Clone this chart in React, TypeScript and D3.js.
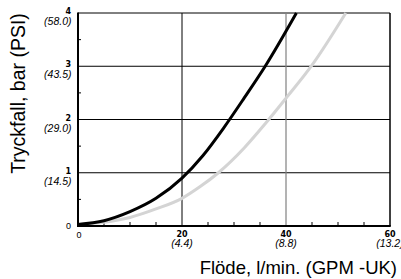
import React from "react";
import * as d3 from "d3";

const flowTicks = [0, 20, 40, 60];
const flowSub = ["", "(4.4)", "(8.8)", "(13.2)"];
const pressTicks = [0, 1, 2, 3, 4];
const pressSub = ["", "(14.5)", "(29.0)", "(43.5)", "(58.0)"];
const minorX = [5, 10, 15, 25, 30, 35, 45, 50, 55];
const minorY = [0.5, 1.5, 2.5, 3.5];

const blackFlow = [0, 5, 10, 15, 20, 24, 28, 32, 36, 42];
const blackPress = [0.03, 0.1, 0.27, 0.52, 0.9, 1.32, 1.84, 2.41, 3.0, 4];
const grayFlow = [0, 5, 10, 15, 20, 23.5, 27, 32, 36, 40, 45, 51.5];
const grayPress = [0.03, 0.07, 0.16, 0.32, 0.52, 0.74, 1, 1.47, 1.92, 2.4, 3.02, 4];

const W = 401;
const H = 279;
const left = 78, right = 390, top = 13, bottom = 226;

export default function App() {
  const x = d3.scaleLinear().domain([0, 60]).range([left, right]);
  const y = d3.scaleLinear().domain([0, 4]).range([bottom, top]);
  const line = d3
    .line<[number, number]>()
    .x((d) => x(d[0]))
    .y((d) => y(d[1]))
    .curve(d3.curveMonotoneX);
  const blackPts = blackFlow.map((f, i) => [f, blackPress[i]] as [number, number]);
  const grayPts = grayFlow.map((f, i) => [f, grayPress[i]] as [number, number]);
  const sans = "'Liberation Sans', Arial, sans-serif";
  const bold = "'DejaVu Sans', sans-serif";
  return (
    <svg
      width={W}
      height={H}
      style={{ position: "absolute", left: 0, top: 0, background: "#fff" }}
    >
      {pressTicks.slice(1).map((p) => (
        <line key={"h" + p} x1={left} x2={right} y1={y(p)} y2={y(p)} stroke="#000" strokeWidth={1} />
      ))}
      <line x1={x(20)} x2={x(20)} y1={top} y2={bottom} stroke="#000" strokeWidth={1} />
      <line x1={x(40)} x2={x(40)} y1={top} y2={bottom} stroke="#808080" strokeWidth={1.2} />
      <line x1={x(60)} x2={x(60)} y1={top} y2={bottom} stroke="#000" strokeWidth={1.5} />
      {minorX.map((f) => (
        <line key={"mx" + f} x1={x(f)} x2={x(f)} y1={bottom} y2={bottom - 4} stroke="#000" strokeWidth={1} />
      ))}
      {minorY.map((p) => (
        <line key={"my" + p} x1={left} x2={left + 3} y1={y(p)} y2={y(p)} stroke="#000" strokeWidth={1} />
      ))}
      <path d={line(grayPts) || ""} fill="none" stroke="#d4d4d4" strokeWidth={3} />
      <path d={line(blackPts) || ""} fill="none" stroke="#000" strokeWidth={3} />
      <line x1={left} x2={left} y1={top - 0.5} y2={bottom + 1} stroke="#000" strokeWidth={2} />
      <line x1={left - 1} x2={right + 0.75} y1={bottom} y2={bottom} stroke="#000" strokeWidth={2} />
      {pressTicks.map((p, i) =>
        p === 0 ? (
          <text key={"yl" + p} x={71} y={y(p) + 3.3} textAnchor="end" fontFamily={sans} fontSize={9}>
            0
          </text>
        ) : (
          <g key={"yl" + p}>
            <text x={71} y={y(p) + 1} textAnchor="end" fontFamily={bold} fontWeight="bold" fontSize={8}>
              {p}
            </text>
            <text x={71.5} y={y(p) + 12} textAnchor="end" fontFamily={sans} fontStyle="italic" fontSize={10.5}>
              {pressSub[i]}
            </text>
          </g>
        )
      )}
      {flowTicks.map((f, i) =>
        f === 0 ? (
          <text key={"xl" + f} x={x(f) + 1} y={238} textAnchor="middle" fontFamily={sans} fontSize={9}>
            0
          </text>
        ) : (
          <g key={"xl" + f}>
            <text x={x(f)} y={237.3} textAnchor="middle" fontFamily={bold} fontWeight="bold" fontSize={8}>
              {f}
            </text>
            <text x={x(f)} y={247} textAnchor="middle" fontFamily={sans} fontStyle="italic" fontSize={10.5}>
              {flowSub[i]}
            </text>
          </g>
        )
      )}
      <text x={397} y={274} textAnchor="end" fontFamily={sans} fontSize={18.5}>
        Flöde, l/min. (GPM -UK)
      </text>
      <text
        transform="translate(25,93.5) rotate(-90)"
        textAnchor="middle"
        fontFamily={sans}
        fontSize={19.5}
      >
        Tryckfall, bar (PSI)
      </text>
    </svg>
  );
}
